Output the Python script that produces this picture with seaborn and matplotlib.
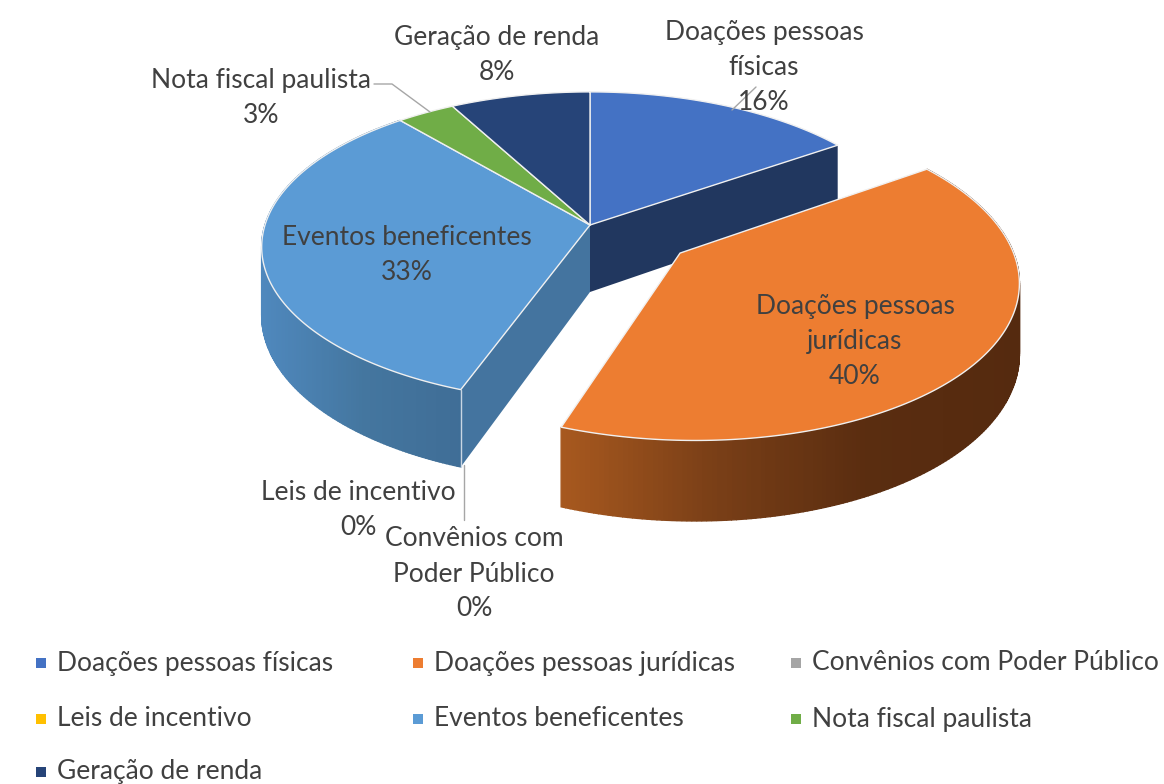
import numpy as np
import matplotlib
matplotlib.use("Agg")
import matplotlib.pyplot as plt
import seaborn as sns

categories = ["Doações pessoas físicas", "Doações pessoas jurídicas", "Convênios com Poder Público",
              "Leis de incentivo", "Eventos beneficentes", "Nota fiscal paulista", "Geração de renda"]
values = [15.4, 40.2, 0, 0, 33.2, 3.3, 7.9]
colors = ["#4472C4", "#ED7D31", "#A5A5A5", "#FFC000", "#5B9BD5", "#70AD47", "#264478"]
label_text = ["Doações pessoas\nfísicas\n16%", "Doações pessoas\njurídicas\n40%", "Convênios com\nPoder Público\n0%",
              "Leis de incentivo\n0%", "Eventos beneficentes\n33%", "Nota fiscal paulista\n3%", "Geração de renda\n8%"]
label_pos = [(764, 67), (855, 341), (474, 574), (358, 510), (407, 255), (261, 98), (497, 55)]
legend_pos = [(41, 663), (418, 663), (796, 663), (41, 719), (418, 719), (796, 719), (41, 772)]

sns.set_theme(style="white")
plt.rcParams["font.family"] = ["Lato", "DejaVu Sans"]
TXT = "#404040"

CX, CY = 590, 225
R_X, R_Y = 325, 152
PERSP = 0.142
DEPTH = 67
explode = {1: (0.27, -0.18)}


def proj(frac, a=0.0, b=0.0):
    t = 2 * np.pi * np.asarray(frac, dtype=float)
    u, v = np.sin(t) + a, np.cos(t) + b
    d = 1 + PERSP * v
    return CX + R_X * u / d, CY - R_Y * v / d, DEPTH / d


def centre(a=0.0, b=0.0):
    d = 1 + PERSP * b
    return CX + R_X * a / d, CY - R_Y * b / d, DEPTH / d


fig = plt.figure(figsize=(11.64, 7.84), dpi=100, facecolor="white")
ax = fig.add_axes([0, 0, 1, 1])
ax.set_xlim(0, 1164)
ax.set_ylim(784, 0)
ax.axis("off")

ends = np.cumsum(values) / 100
starts = ends - np.array(values) / 100

side_stops = {
    4: (["#4F88BD", "#44769F", "#3F6D96"], 262, 465),
    1: (["#A8591F", "#7A3F17", "#5A2D10", "#552A0F"], 558, 1018),
}


def side(i, zorder):
    a, b = explode.get(i, (0, 0))
    fr = np.linspace(starts[i], ends[i], 200)
    x, y, dep = proj(fr, a, b)
    stops, x0, x1 = side_stops[i]
    pal = sns.blend_palette(stops, 256)
    for j in range(len(fr) - 1):
        pos = np.clip((0.5 * (x[j] + x[j + 1]) - x0) / (x1 - x0), 0, 1)
        c = pal[int(pos * 255)]
        ax.fill([x[j], x[j + 1], x[j + 1], x[j]],
                [y[j], y[j + 1], y[j + 1] + dep[j + 1], y[j] + dep[j]],
                facecolor=c, edgecolor=c, lw=1.0, zorder=zorder)


# outer side of the body, then the cut faces, then the exploded slice, then all tops
side(4, 1)
cx0, cy0, d0 = centre()
for f, col in [(ends[0], "#21375F"), (starts[4], "#44749F")]:
    x, y, d = proj(f)
    ax.fill([cx0, x, x, cx0], [cy0, y, y + d, cy0 + d0], color=col, lw=0, zorder=2)
x, y, d = proj(starts[4])
ax.plot([x, x], [y, y + d], color="#C9D6E3", lw=1.0, zorder=3)
side(1, 4)

for i, val in enumerate(values):
    if val == 0:
        continue
    a, b = explode.get(i, (0, 0))
    x, y, _ = proj(np.linspace(starts[i], ends[i], 200), a, b)
    cx, cy, _ = centre(a, b)
    ax.fill(np.r_[cx, x], np.r_[cy, y], facecolor=colors[i], edgecolor="#F0F0F0", lw=1.0,
            joinstyle="round", zorder=5 + (i == 1))

# leader lines
ax.plot([756, 732], [87, 110], color="#A6A6A6", lw=1, zorder=9)
ax.plot([374, 392, 430], [84, 84, 112], color="#A6A6A6", lw=1, zorder=9)
ax.plot([464, 464], [465, 520], color="#A6A6A6", lw=1, zorder=9)

for txt, (px, py) in zip(label_text, label_pos):
    ax.text(px, py, txt, ha="center", va="center", fontsize=19, color=TXT, linespacing=1.5, zorder=10)

for name, col, (px, py) in zip(categories, colors, legend_pos):
    ax.scatter([px], [py], marker="s", s=42, color=col, lw=0, zorder=10)
    ax.text(px + 16, py, name, ha="left", va="center", fontsize=19, color=TXT, zorder=10)

fig.savefig("out.png", dpi=100, facecolor="white")
